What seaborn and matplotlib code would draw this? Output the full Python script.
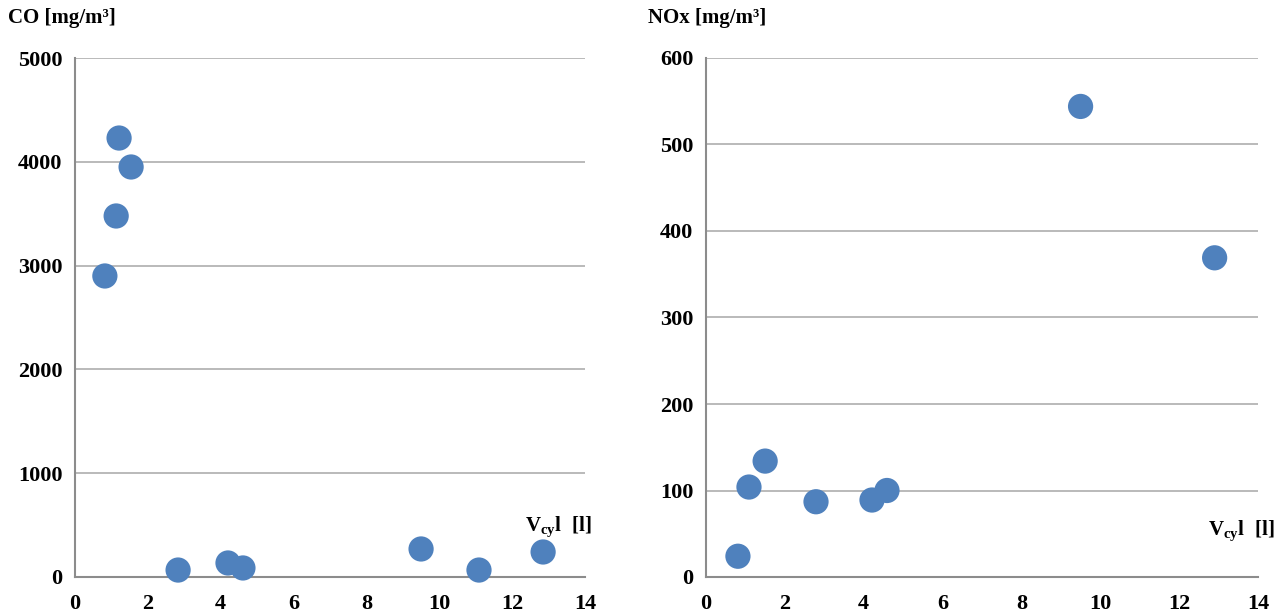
import matplotlib
matplotlib.use("Agg")
import matplotlib.pyplot as plt
import seaborn as sns
import pandas as pd

# Cylinder displacement [l] and measured emissions
vcyl_co = [0.82, 1.13, 1.21, 1.54, 2.83, 4.20, 4.61, 9.50, 11.09, 12.85]
co_vals = [2900, 3478, 4229, 3950, 67, 135, 87, 270, 67, 241]

vcyl_nox = [0.81, 1.09, 1.50, 2.79, 4.21, 4.59, 9.50, 12.90]
nox_vals = [24, 104, 134, 87, 89, 100, 544, 369]

x_ticks = [0, 2, 4, 6, 8, 10, 12, 14]
co_ticks = [0, 1000, 2000, 3000, 4000, 5000]
nox_ticks = [0, 100, 200, 300, 400, 500, 600]

sns.set_theme(style="white")
plt.rcParams["font.family"] = ["Liberation Serif", "DejaVu Serif"]
plt.rcParams["font.weight"] = "bold"
plt.rcParams["text.color"] = "black"
plt.rcParams["mathtext.fontset"] = "custom"
plt.rcParams["mathtext.rm"] = "Liberation Serif:bold"
plt.rcParams["mathtext.it"] = "Liberation Serif:bold"
plt.rcParams["mathtext.bf"] = "Liberation Serif:bold"

MARKER = "#4F81BD"
GRID = "#B4B4B4"
AXIS = "#8C8C8C"

fig = plt.figure(figsize=(12.82, 6.16), dpi=100)
ax1 = fig.add_axes([75 / 1282, 1 - 577 / 616, 510 / 1282, 519 / 616])
ax2 = fig.add_axes([706 / 1282, 1 - 577 / 616, 552 / 1282, 519 / 616])

df_co = pd.DataFrame({"Vcyl": vcyl_co, "CO": co_vals})
df_nox = pd.DataFrame({"Vcyl": vcyl_nox, "NOx": nox_vals})

panels = [
    (ax1, df_co, "CO", co_ticks, "CO [mg/m³]", 8, (0.949, 0.096)),
    (ax2, df_nox, "NOx", nox_ticks, "NOx [mg/m³]", 648, (0.971, 0.090)),
]

for ax, df, col, yticks, title, title_x, lab_pos in panels:
    sns.scatterplot(data=df, x="Vcyl", y=col, ax=ax, s=330, color=MARKER,
                    edgecolor="none", zorder=3, clip_on=False)
    ax.set_xlim(0, 14)
    ax.set_ylim(yticks[0], yticks[-1])
    ax.set_xticks(x_ticks)
    ax.set_yticks(yticks)
    ax.set_xticklabels([str(t) for t in x_ticks], fontsize=16, fontweight="bold")
    ax.set_yticklabels([str(t) for t in yticks], fontsize=16, fontweight="bold")
    ax.set_xlabel("")
    ax.set_ylabel("")
    ax.yaxis.grid(True, color=GRID, linewidth=1.3)
    ax.xaxis.grid(False)
    ax.set_axisbelow(True)
    for side in ("top", "right"):
        ax.spines[side].set_visible(False)
    for side in ("left", "bottom"):
        ax.spines[side].set_color(AXIS)
        ax.spines[side].set_linewidth(1.5)
    ax.tick_params(axis="both", which="major", direction="out", length=5,
                   width=1.3, color=AXIS, labelcolor="black")
    ax.tick_params(axis="y", pad=4)
    ax.tick_params(axis="x", pad=7)
    ax.text(lab_pos[0], lab_pos[1], r"$\mathrm{V_{cy}l\ \ [l]}$",
            transform=ax.transAxes, ha="center", va="center", fontsize=15,
            color="black")
    fig.text(title_x / 1282, 1 - 18 / 616, title, ha="left", va="center",
             fontsize=15, fontweight="bold", color="black")

fig.savefig("out.png", dpi=100, facecolor="white")
